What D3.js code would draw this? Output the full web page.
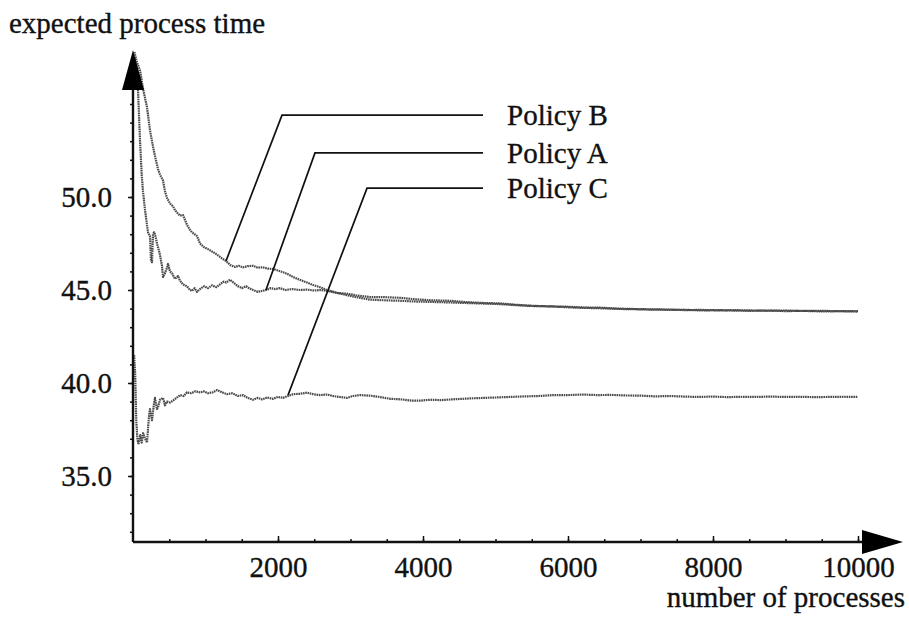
<!DOCTYPE html>
<html>
<head>
<meta charset="utf-8">
<script src="https://cdn.jsdelivr.net/npm/d3@7"></script>
<style>
  body { margin: 0; background: #fff; }
  svg text { font-family: "Liberation Serif", "Times New Roman", serif; fill: #111; stroke: #111; stroke-width: 0.35; }
</style>
</head>
<body>
<div id="chart"></div>
<script>
// expected process time vs number of processes, three policies

////////////////////////////////////////////////////////////////////////
// Data

let policyANum = [20, 50, 69, 97, 120, 138, 166, 193, 207, 220, 234, 248, 262, 276, 290, 303, 331, 345,
  372, 400, 414, 441, 469, 483, 510, 538, 579, 621, 648, 690, 745, 786, 814, 850, 883, 924, 980,
  1034, 1090, 1150, 1200, 1250, 1283, 1338, 1400, 1450, 1503, 1560, 1600, 1655, 1720, 1780, 1834,
  1900, 1960, 2028, 2100, 2200, 2303, 2400, 2500, 2579, 2676, 2814, 2952, 3100, 3269, 3450, 3683,
  3900, 4100, 4372, 4600, 4850, 5062, 5300, 5500, 5752, 6000, 6200, 6441, 6700, 6900, 7131, 7400,
  7600, 7821, 8100, 8300, 8510, 8800, 9000, 9200, 9500, 9750, 10000];
let policyAVal = [57.5, 56.5, 55.75, 53.0, 51.2, 50.3, 49.3, 48.5, 48.1, 48.0, 47.9, 46.6, 46.5, 48.0,
  48.1, 48.0, 47.5, 47.3, 46.9, 46.3, 45.7, 45.9, 46.2, 46.4, 46.0, 45.9, 45.6, 45.75, 45.5, 45.3,
  45.2, 45.0, 44.95, 45.1, 44.9, 45.05, 45.2, 45.1, 45.25, 45.15, 45.3, 45.45, 45.4, 45.55, 45.35,
  45.2, 45.1, 45.2, 45.1, 45.0, 44.9, 44.95, 45.0, 45.1, 45.05, 45.1, 45.0, 45.05, 45.0, 45.02,
  44.97, 45.0, 44.95, 44.84, 44.8, 44.7, 44.62, 44.62, 44.58, 44.5, 44.45, 44.42, 44.35, 44.3,
  44.28, 44.2, 44.15, 44.12, 44.1, 44.06, 44.05, 44.0, 43.98, 43.96, 43.95, 43.92, 43.93, 43.9,
  43.92, 43.9, 43.88, 43.9, 43.87, 43.88, 43.86, 43.87];

let policyBNum = [20, 50, 97, 140, 193, 234, 276, 303, 345, 372, 414, 441, 469, 510, 552, 579, 621,
  648, 690, 745, 786, 814, 883, 924, 980, 1034, 1103, 1160, 1228, 1283, 1340, 1407, 1460, 1517,
  1580, 1655, 1720, 1790, 1860, 1931, 2000, 2070, 2138, 2207, 2300, 2400, 2483, 2579, 2676, 2814,
  2952, 3100, 3269, 3450, 3683, 3900, 4100, 4372, 4600, 4850, 5062, 5300, 5500, 5752, 6000, 6200,
  6441, 6700, 6900, 7131, 7400, 7600, 7821, 8100, 8300, 8510, 8800, 9000, 9200, 9500, 9750, 10000];
let policyBVal = [57.8, 57.3, 56.8, 55.8, 54.84, 53.6, 52.7, 52.2, 51.5, 51.2, 50.9, 50.3, 49.95,
  49.65, 49.5, 49.3, 49.1, 49.0, 49.03, 48.5, 48.23, 48.1, 47.9, 47.5, 47.3, 47.2, 47.04, 46.9,
  46.7, 46.56, 46.35, 46.24, 46.3, 46.22, 46.28, 46.3, 46.2, 46.22, 46.15, 46.13, 46.05, 45.95,
  45.85, 45.7, 45.55, 45.4, 45.27, 45.15, 45.0, 44.85, 44.72, 44.6, 44.48, 44.45, 44.42, 44.38,
  44.36, 44.33, 44.3, 44.27, 44.24, 44.18, 44.14, 44.12, 44.07, 44.04, 44.02, 43.98, 43.97, 43.95,
  43.93, 43.94, 43.9, 43.92, 43.89, 43.88, 43.9, 43.86, 43.88, 43.85, 43.86, 43.84];

let policyCNum = [15, 30, 45, 60, 75, 100, 120, 140, 166, 193, 220, 234, 262, 290, 303, 331, 345, 372,
  414, 441, 469, 510, 552, 600, 648, 700, 745, 800, 860, 924, 980, 1034, 1100, 1159, 1228, 1300,
  1366, 1450, 1517, 1580, 1655, 1720, 1780, 1850, 1931, 2000, 2070, 2138, 2207, 2300, 2400, 2483,
  2579, 2676, 2760, 2850, 2952, 3034, 3130, 3269, 3400, 3550, 3700, 3850, 3960, 4100, 4250, 4400,
  4550, 4700, 4850, 5000, 5200, 5400, 5600, 5800, 6000, 6200, 6400, 6600, 6800, 7000, 7200, 7400,
  7600, 7800, 8000, 8200, 8400, 8600, 8800, 9000, 9200, 9400, 9600, 9800, 10000];
let policyCVal = [41.5, 40.5, 38.0, 37.0, 36.7, 37.2, 36.8, 37.3, 37.0, 36.8, 38.2, 38.6, 38.0, 38.9,
  39.2, 38.6, 38.7, 39.1, 39.2, 38.8, 39.0, 38.95, 39.05, 39.2, 39.35, 39.3, 39.5, 39.45, 39.55,
  39.5, 39.55, 39.45, 39.5, 39.62, 39.5, 39.4, 39.45, 39.3, 39.35, 39.2, 39.1, 39.2, 39.12, 39.22,
  39.15, 39.25, 39.2, 39.3, 39.4, 39.42, 39.48, 39.4, 39.35, 39.38, 39.3, 39.25, 39.2, 39.3, 39.35,
  39.32, 39.25, 39.15, 39.12, 39.05, 39.05, 39.1, 39.08, 39.12, 39.15, 39.18, 39.2, 39.22, 39.25,
  39.28, 39.3, 39.35, 39.35, 39.38, 39.35, 39.36, 39.33, 39.32, 39.28, 39.3, 39.27, 39.25, 39.27,
  39.24, 39.26, 39.25, 39.27, 39.25, 39.26, 39.24, 39.25, 39.26, 39.25];

// callouts: label, point on the curve, elbow of the leader (data units)
let calloutLabels = ["Policy B", "Policy A", "Policy C"];
let calloutTarget = [[1283, 46.56], [1834, 45.0], [2138, 39.35]];
let calloutElbow  = [[2055, 54.4], [2510, 52.37], [3228, 50.48]];
let calloutEndNum = 4828;

let xMajorTicks = [2000, 4000, 6000, 8000, 10000];
let xMinorTicks = d3.range(500, 10001, 500);
let yMajorTicks = [35, 40, 45, 50];
let yMinorTicks = d3.range(32, 58, 1);

////////////////////////////////////////////////////////////////////////
// Scales and svg

let width = 909, height = 619;

let xScale = d3.scaleLinear().domain([0, 10000]).range([133, 858]);
let yScale = d3.scaleLinear().domain([35, 50]).range([476, 197]);

let svg = d3.select("#chart").append("svg")
  .attr("width", width)
  .attr("height", height);

let originX = xScale(0), originY = 542;

////////////////////////////////////////////////////////////////////////
// Curves

let line = d3.line()
  .x(function(d) { return xScale(d[0]); })
  .y(function(d) { return yScale(d[1]); });

let series = [
  d3.zip(policyANum, policyAVal),
  d3.zip(policyBNum, policyBVal),
  d3.zip(policyCNum, policyCVal)
];

svg.append("g")
  .selectAll("path")
  .data(series)
  .enter()
  .append("path")
  .attr("d", line)
  .attr("fill", "none")
  .attr("stroke", "#4a4a4a")
  .attr("stroke-width", 2.2)
  .attr("stroke-dasharray", "1.6,0.7")
  .attr("stroke-linejoin", "round");

////////////////////////////////////////////////////////////////////////
// Axes

let xMinor = svg.append("g")
  .attr("transform", "translate(0," + originY + ")")
  .call(d3.axisBottom(xScale).tickValues(xMinorTicks).tickSizeInner(-3).tickSizeOuter(0).tickFormat(""));
let xMajor = svg.append("g")
  .attr("transform", "translate(0," + originY + ")")
  .call(d3.axisBottom(xScale).tickValues(xMajorTicks).tickSizeInner(-6).tickSizeOuter(0)
    .tickPadding(20).tickFormat(d3.format("d")));
let yMinor = svg.append("g")
  .attr("transform", "translate(" + originX + ",0)")
  .call(d3.axisLeft(yScale).tickValues(yMinorTicks).tickSizeInner(3).tickSizeOuter(0).tickFormat(""));
let yMajor = svg.append("g")
  .attr("transform", "translate(" + originX + ",0)")
  .call(d3.axisLeft(yScale).tickValues(yMajorTicks).tickSizeInner(5).tickSizeOuter(0)
    .tickPadding(16).tickFormat(d3.format(".1f")));

[xMinor, xMajor, yMinor, yMajor].forEach(function(g) {
  g.select(".domain").remove();
  g.selectAll("line").attr("stroke", "#111").attr("stroke-width", 1.5);
  g.selectAll("text")
    .attr("font-family", "Liberation Serif, Times New Roman, serif")
    .attr("font-size", 29)
    .attr("fill", "#111");
});
xMajor.selectAll("text").attr("dy", "0.5em");

// axis lines with arrow heads
svg.append("line")
  .attr("x1", originX).attr("y1", originY)
  .attr("x2", originX).attr("y2", 88)
  .attr("stroke", "#111").attr("stroke-width", 2.4);
svg.append("line")
  .attr("x1", originX).attr("y1", originY)
  .attr("x2", 864).attr("y2", originY)
  .attr("stroke", "#111").attr("stroke-width", 2.4);

svg.append("path")
  .attr("d", "M" + originX + ",50 L" + (originX - 11) + ",90 L" + (originX + 11) + ",90 Z")
  .attr("fill", "#000");
svg.append("path")
  .attr("d", "M903," + originY + " L862," + (originY - 12) + " L862," + (originY + 12) + " Z")
  .attr("fill", "#000");

// axis titles
svg.append("text")
  .attr("x", 9).attr("y", 33)
  .attr("font-size", 29)
  .text("expected process time");
svg.append("text")
  .attr("x", 905).attr("y", 607)
  .attr("text-anchor", "end")
  .attr("font-size", 29)
  .text("number of processes");

////////////////////////////////////////////////////////////////////////
// Callouts

let callouts = svg.append("g")
  .selectAll("g")
  .data(calloutLabels)
  .enter()
  .append("g");

callouts.append("path")
  .attr("d", function(d, i) {
    let t = calloutTarget[i], e = calloutElbow[i];
    return "M" + xScale(t[0]) + "," + yScale(t[1]) +
      " L" + xScale(e[0]) + "," + yScale(e[1]) +
      " L" + xScale(calloutEndNum) + "," + yScale(e[1]);
  })
  .attr("fill", "none")
  .attr("stroke", "#111")
  .attr("stroke-width", 1.7);

callouts.append("text")
  .attr("x", xScale(calloutEndNum) + 24)
  .attr("y", function(d, i) { return yScale(calloutElbow[i][1]); })
  .attr("dy", "0.35em")
  .attr("font-size", 29)
  .text(function(d) { return d; });
</script>
</body>
</html>
